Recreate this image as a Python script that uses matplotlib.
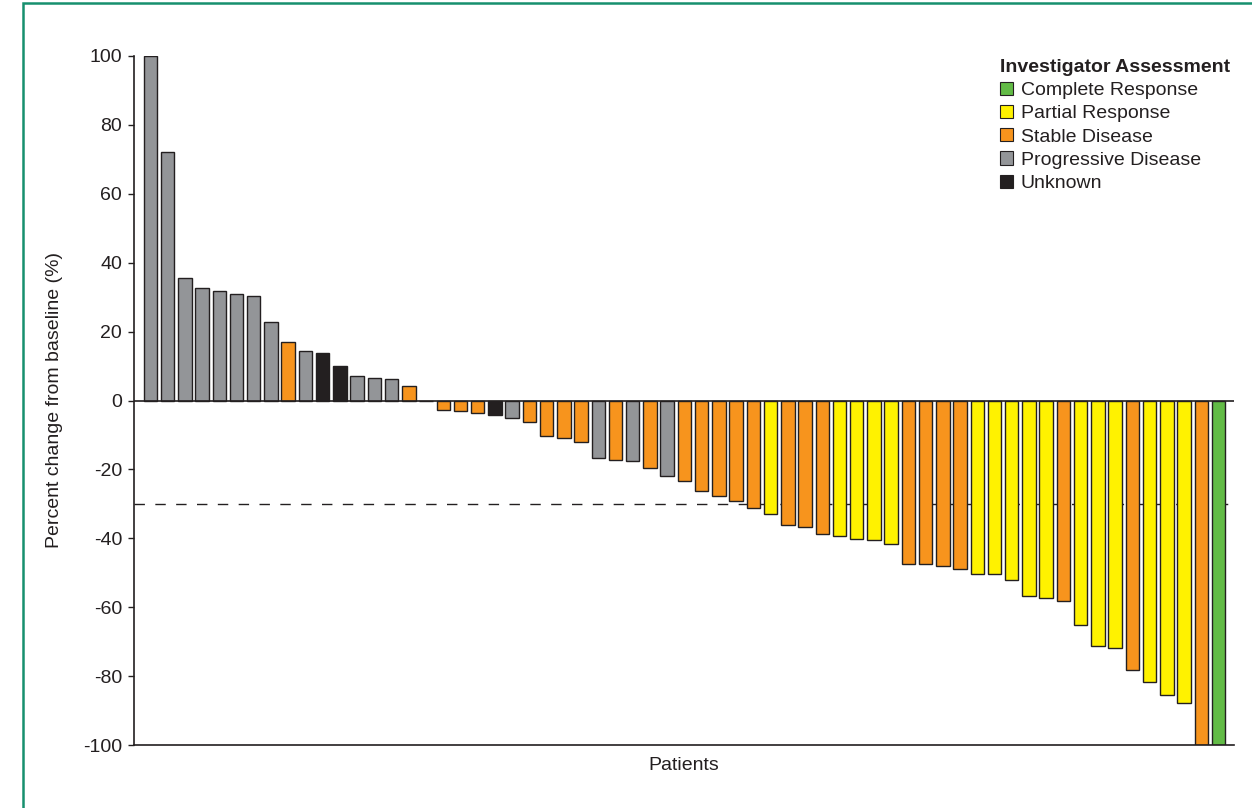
"""
Waterfall plot of best percent change from baseline per patient,
coloured by investigator assessment.
"""

import numpy as np
import matplotlib.pyplot as plt
from matplotlib.patches import Patch, Rectangle

plt.rcParams['font.family'] = ['Liberation Sans', 'DejaVu Sans']
plt.rcParams['axes.unicode_minus'] = False

# best percent change from baseline, one value per patient (sorted)
pct_change = [100, 72.2, 35.7, 32.6, 31.9, 30.9, 30.2, 22.7, 16.9, 14.4,
              13.8, 10.0, 7.0, 6.6, 6.2, 4.3, 0.0, -2.7, -3.1, -3.6,
              -4.3, -5.0, -6.2, -10.4, -10.9, -12.1, -16.6, -17.3, -17.5, -19.5,
              -21.8, -23.4, -26.2, -27.7, -29.3, -31.2, -32.9, -36.2, -36.6, -38.8,
              -39.2, -40.3, -40.5, -41.7, -47.4, -47.4, -47.9, -49.0, -50.4, -50.4,
              -52.0, -56.7, -57.2, -58.2, -65.2, -71.4, -71.8, -78.1, -81.7, -85.5,
              -87.8, -100, -100]

# assessment codes: CR, PR, SD, PD, UNK
assessment = ['PD', 'PD', 'PD', 'PD', 'PD', 'PD', 'PD', 'PD', 'SD', 'PD',
              'UNK', 'UNK', 'PD', 'PD', 'PD', 'SD', 'SD', 'SD', 'SD', 'SD',
              'UNK', 'PD', 'SD', 'SD', 'SD', 'SD', 'PD', 'SD', 'PD', 'SD',
              'PD', 'SD', 'SD', 'SD', 'SD', 'SD', 'PR', 'SD', 'SD', 'SD',
              'PR', 'PR', 'PR', 'PR', 'SD', 'SD', 'SD', 'SD', 'PR', 'PR',
              'PR', 'PR', 'PR', 'SD', 'PR', 'PR', 'PR', 'SD', 'PR', 'PR',
              'PR', 'SD', 'CR']

legend_codes = ['CR', 'PR', 'SD', 'PD', 'UNK']
legend_labels = ['Complete Response', 'Partial Response', 'Stable Disease',
                 'Progressive Disease', 'Unknown']

colors = {'CR': '#62bb46', 'PR': '#fff200', 'SD': '#f7941d',
          'PD': '#939598', 'UNK': '#231f20'}
dark = '#231f20'

x = np.arange(len(pct_change))
bar_colors = [colors[a] for a in assessment]

fig = plt.figure(figsize=(12.52, 8.08), dpi=100)
ax = fig.add_axes([134 / 1252, 1 - 745 / 808, 1100 / 1252, 689 / 808])

ax.bar(x, pct_change, width=0.78, color=bar_colors,
       edgecolor=dark, linewidth=1.0, zorder=2)

# zero line and 30% response threshold
ax.axhline(0, color=dark, lw=1.2, zorder=3)
ax.axhline(-30, color=dark, lw=1.0, linestyle=(0, (7.5, 7.5)), zorder=1)

ax.set_xlim(-0.95, 62.9)
ax.set_ylim(-100, 100)
ax.set_yticks(np.arange(-100, 101, 20))

for side in ['top', 'right']:
    ax.spines[side].set_visible(False)
for side in ['left', 'bottom']:
    ax.spines[side].set_color(dark)
    ax.spines[side].set_linewidth(1.2)

ax.tick_params(axis='x', bottom=False, labelbottom=False)
ax.tick_params(axis='y', direction='out', length=4.3, width=1.0,
               pad=4.3, colors=dark, labelsize=14)

ax.set_xlabel('Patients', fontsize=14, color=dark, labelpad=9)
ax.set_ylabel('Percent change from baseline (%)', fontsize=14, color=dark)
ax.yaxis.set_label_coords(-0.0645, 0.5)

# legend
handles = [Patch(facecolor=colors[c], edgecolor=dark, linewidth=0.8)
           for c in legend_codes]
leg = fig.legend(handles, legend_labels, loc='upper left',
                 bbox_to_anchor=(991 / 1252, 1 - 50 / 808),
                 frameon=False, fontsize=14, title='Investigator Assessment',
                 title_fontproperties={'weight': 'bold', 'size': 14},
                 alignment='left', borderpad=0.45, borderaxespad=0,
                 handlelength=0.67, handleheight=0.67, handletextpad=0.4,
                 labelspacing=0.3)
for t in leg.get_texts():
    t.set_color(dark)
leg.get_title().set_color(dark)

# green frame round the figure (left and top edges visible)
fig.patches.append(Rectangle((23 / 1252, -0.1), 1.2, 1.1 - 3.5 / 808,
                             transform=fig.transFigure, fill=False,
                             edgecolor='#16906e', linewidth=1.8))

plt.savefig('out.png', dpi=100)
